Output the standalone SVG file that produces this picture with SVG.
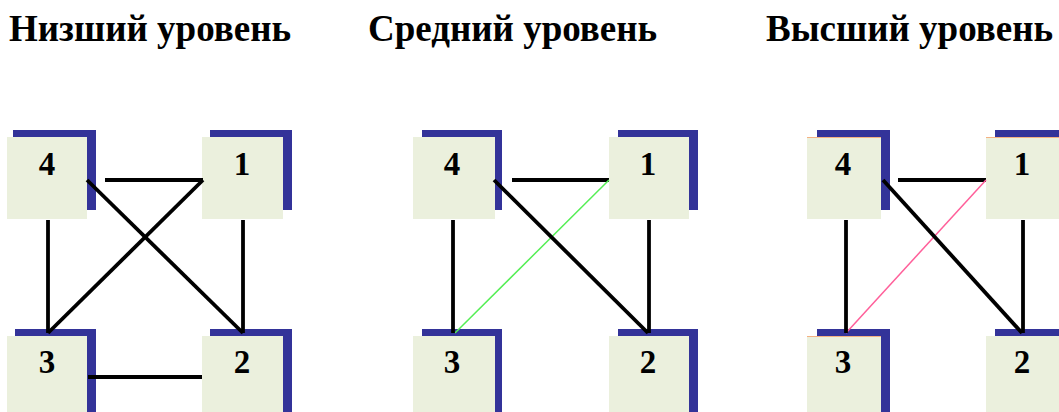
<svg xmlns="http://www.w3.org/2000/svg" width="1059" height="412" viewBox="0 0 1059 412">
<style>
.title{font-family:"Liberation Serif","Times New Roman",serif;font-weight:bold;font-size:37px;fill:#000}
.num{font-family:"Liberation Serif","Times New Roman",serif;font-weight:bold;font-size:33px;fill:#000;text-anchor:middle}
.sh{fill:#333399}
.bx{fill:#EBF0DD}
.ol{stroke:#F4B183;stroke-width:1.2;fill:none}
.e{stroke:#000;stroke-width:3.8;fill:none}
.g{stroke:#55EE55;stroke-width:1.5;fill:none}
.p{stroke:#FF5F9A;stroke-width:1.5;fill:none}
</style>
<rect width="1059" height="412" fill="#fff"/>
<g id="titles">
<text class="title" x="9" y="41">Низший уровень</text>
<text class="title" x="368" y="41">Средний уровень</text>
<text class="title" x="766" y="41">Высший уровень</text>
</g>
<!-- Panel 1 -->
<g id="p1n4"><rect class="sh" x="13" y="130" width="83" height="80"/><rect class="bx" x="7" y="137" width="80" height="82"/><text class="num" x="47" y="175">4</text></g>
<g id="p1n1"><rect class="sh" x="210" y="130" width="82" height="80"/><rect class="bx" x="202" y="137" width="81" height="82"/><text class="num" x="242" y="175">1</text></g>
<g id="p1n3"><rect class="sh" x="15" y="329" width="81" height="90"/><rect class="bx" x="7" y="336" width="80" height="80"/><text class="num" x="47" y="373">3</text></g>
<g id="p1n2"><rect class="sh" x="210" y="329" width="82" height="90"/><rect class="bx" x="202" y="336" width="81" height="80"/><text class="num" x="242" y="373">2</text></g>
<!-- Panel 2 -->
<g id="p2n4"><rect class="sh" x="422" y="130" width="80" height="80"/><rect class="bx" x="413" y="137" width="82" height="82"/><text class="num" x="452" y="175">4</text></g>
<g id="p2n1"><rect class="sh" x="618" y="130" width="80" height="80"/><rect class="bx" x="609" y="137" width="80" height="82"/><text class="num" x="648" y="175">1</text></g>
<g id="p2n3"><rect class="sh" x="422" y="329" width="80" height="90"/><rect class="bx" x="413" y="336" width="82" height="80"/><text class="num" x="452" y="373">3</text></g>
<g id="p2n2"><rect class="sh" x="618" y="329" width="80" height="90"/><rect class="bx" x="609" y="336" width="80" height="80"/><text class="num" x="648" y="373">2</text></g>
<!-- Panel 3 -->
<g id="p3n4"><rect class="sh" x="817" y="130" width="73" height="80"/><rect class="bx" x="807" y="137" width="74" height="82"/><line class="ol" x1="807" y1="137.5" x2="881" y2="137.5"/><text class="num" x="843" y="175">4</text></g>
<g id="p3n1"><rect class="sh" x="995" y="130" width="73" height="80"/><rect class="bx" x="986" y="137" width="80" height="82"/><line class="ol" x1="986" y1="137.5" x2="1059" y2="137.5"/><text class="num" x="1022" y="175">1</text></g>
<g id="p3n3"><rect class="sh" x="817" y="329" width="73" height="90"/><rect class="bx" x="807" y="336" width="74" height="80"/><line class="ol" x1="807" y1="336.5" x2="881" y2="336.5"/><text class="num" x="843" y="373">3</text></g>
<g id="p3n2"><rect class="sh" x="995" y="329" width="73" height="90"/><rect class="bx" x="986" y="336" width="80" height="80"/><text class="num" x="1022" y="373">2</text></g>
<g id="connectors">
<line class="e" x1="105" y1="180" x2="203" y2="180"/>
<line class="e" x1="203" y1="180" x2="48" y2="333"/>
<line class="e" x1="87" y1="180" x2="243" y2="333"/>
<line class="e" x1="48" y1="220" x2="48" y2="333"/>
<line class="e" x1="243" y1="220" x2="243" y2="333"/>
<line class="e" x1="88" y1="377" x2="202" y2="377"/>
<line class="e" x1="512" y1="180" x2="609" y2="180"/>
<line class="g" x1="609" y1="180" x2="455" y2="333"/>
<line class="e" x1="494" y1="180" x2="648" y2="333"/>
<line class="e" x1="453" y1="220" x2="453" y2="333"/>
<line class="e" x1="649" y1="220" x2="649" y2="333"/>
<line class="e" x1="898" y1="180" x2="986" y2="180"/>
<line class="p" x1="986" y1="180" x2="846" y2="333"/>
<line class="e" x1="883" y1="180" x2="1022" y2="333"/>
<line class="e" x1="846" y1="220" x2="846" y2="333"/>
<line class="e" x1="1023" y1="220" x2="1023" y2="333"/>
</g>
</svg>
